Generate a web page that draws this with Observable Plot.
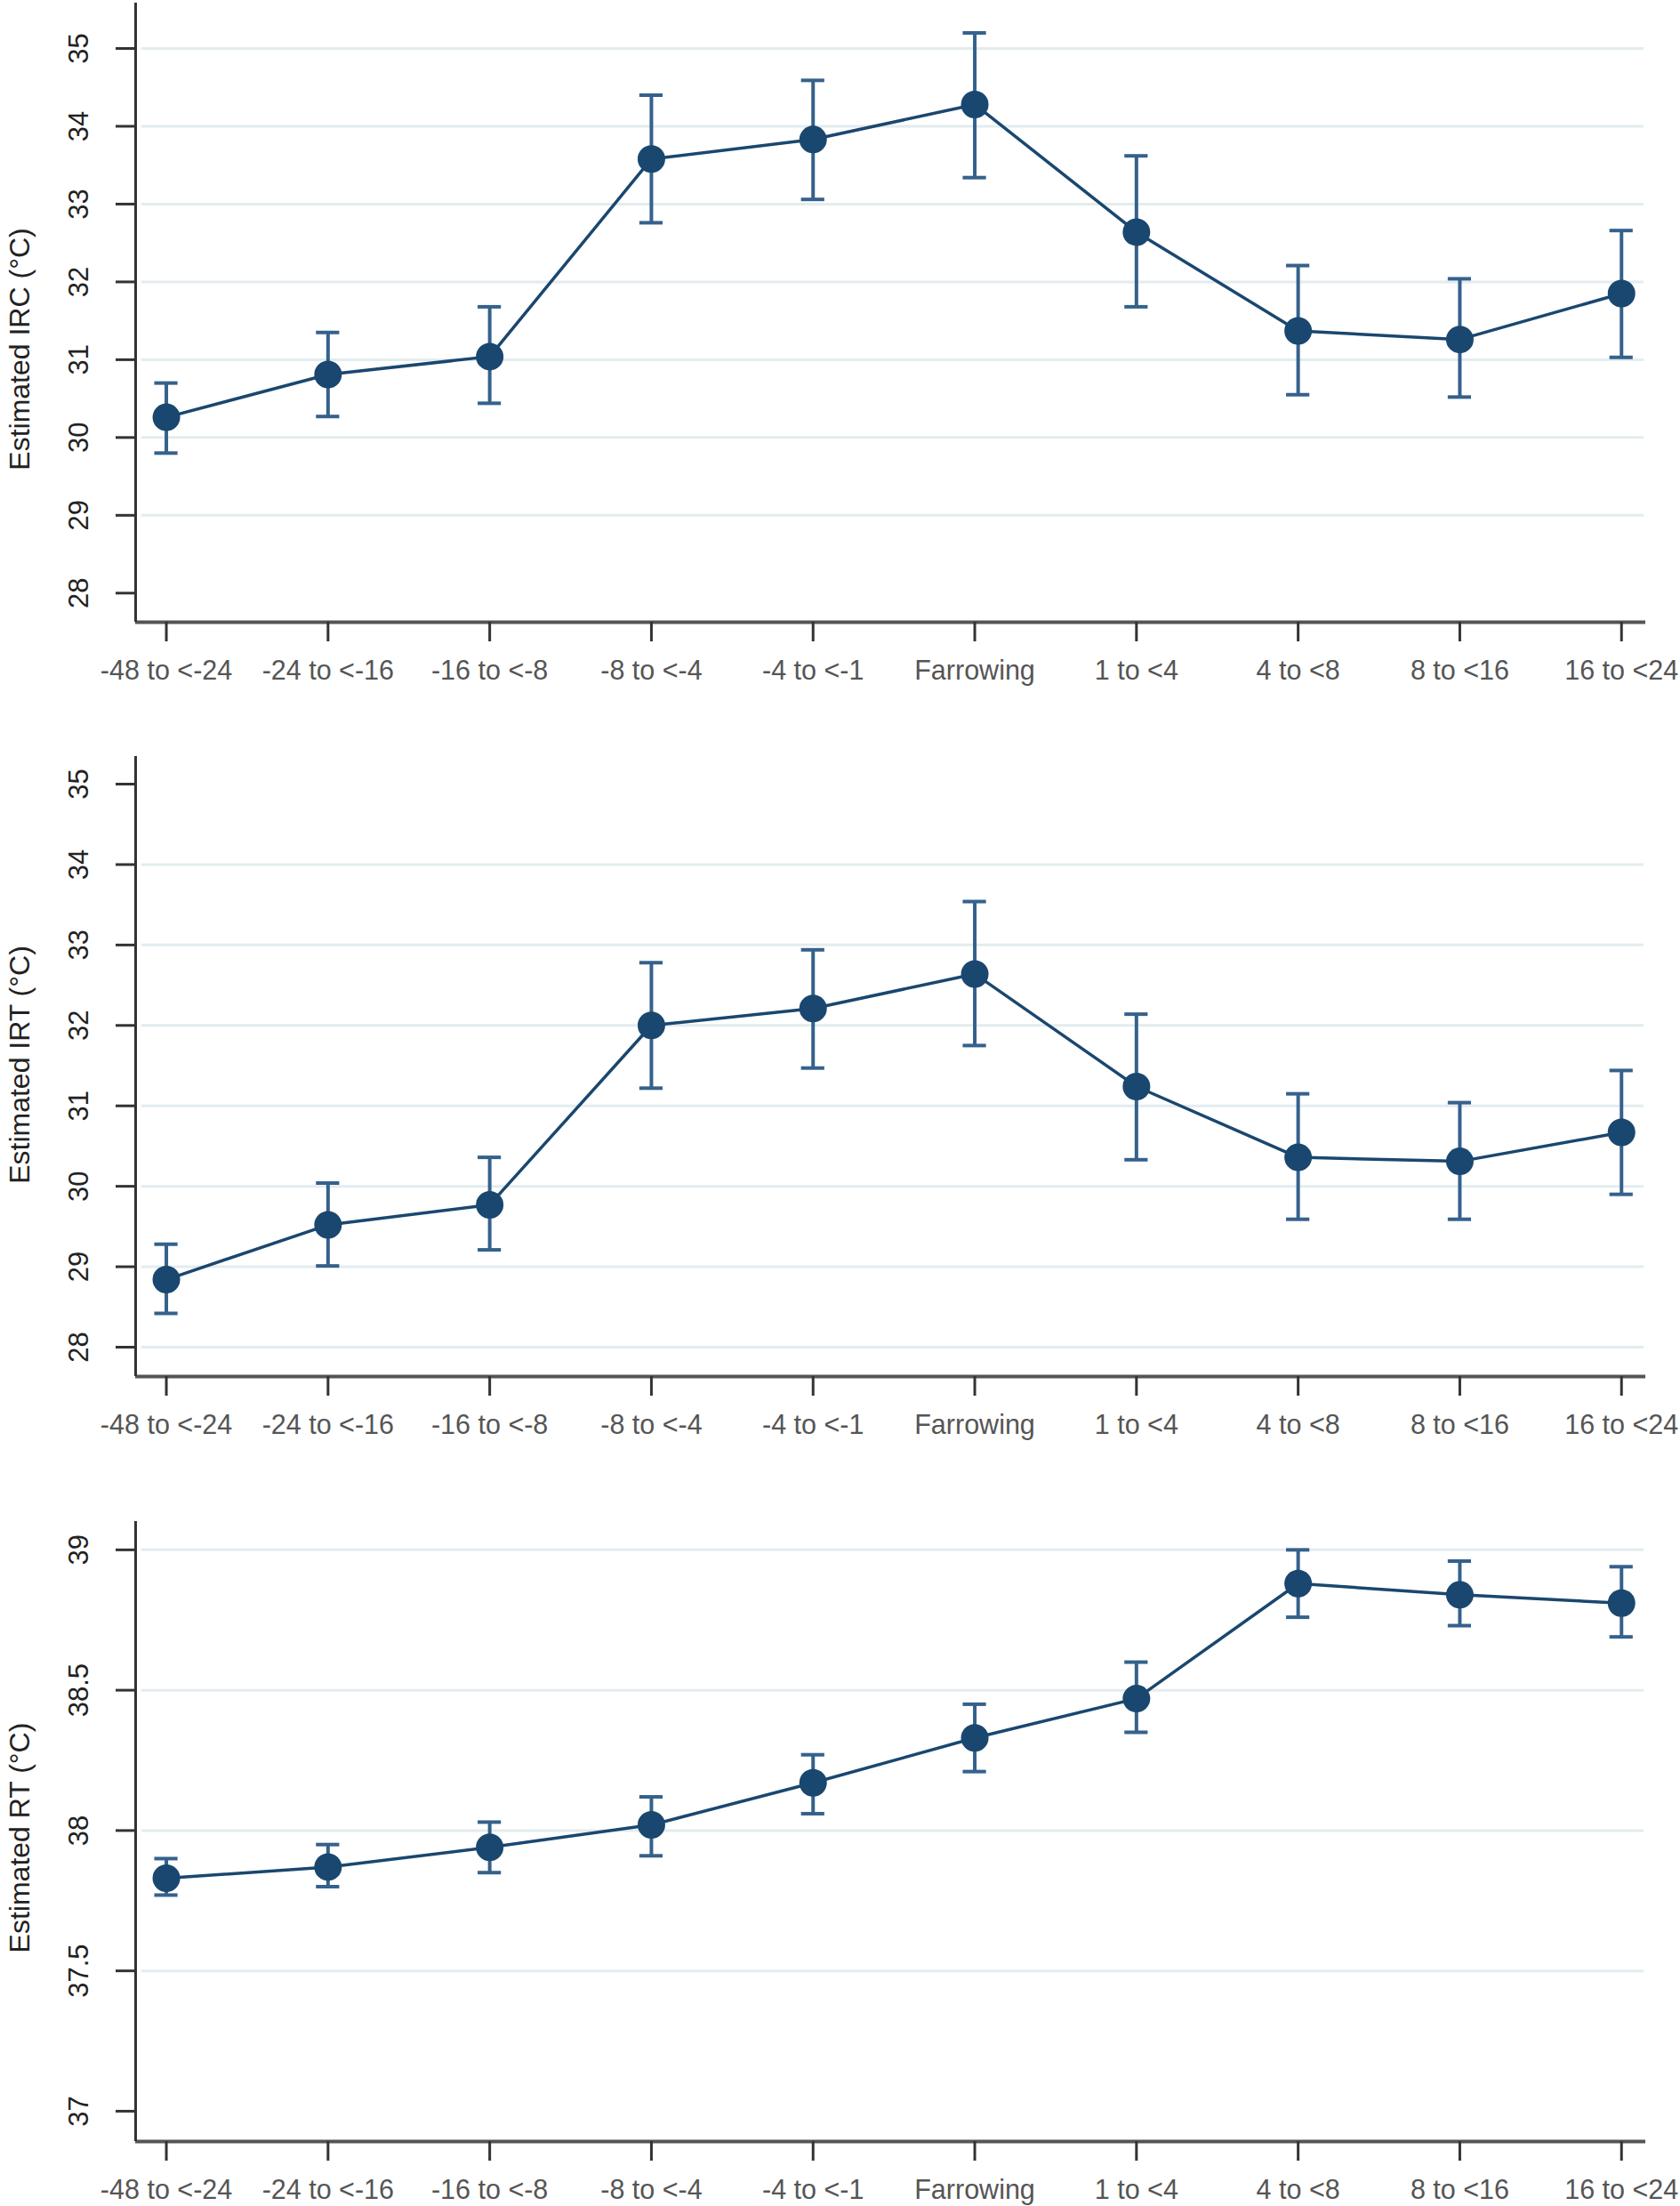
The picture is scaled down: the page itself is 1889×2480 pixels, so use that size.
<!DOCTYPE html>
<html>
<head>
<meta charset="utf-8">
<script src="https://cdn.jsdelivr.net/npm/d3@7"></script>
<script src="https://cdn.jsdelivr.net/npm/@observablehq/plot@0.6"></script>
<style>
  body { margin: 0; background: #fff; }
  #chart svg { display: block; }
</style>
</head>
<body>
<div id="chart"></div>
<script>
// ---- Data ----
const categories = ["-48 to <-24", "-24 to <-16", "-16 to <-8", "-8 to <-4", "-4 to <-1",
                    "Farrowing", "1 to <4", "4 to <8", "8 to <16", "16 to <24"];

const ircMean = [30.26, 30.81, 31.04, 33.58, 33.83, 34.28, 32.64, 31.37, 31.26, 31.85];
const ircLow  = [29.80, 30.27, 30.44, 32.76, 33.06, 33.34, 31.68, 30.55, 30.52, 31.03];
const ircHigh = [30.70, 31.35, 31.68, 34.40, 34.59, 35.20, 33.62, 32.21, 32.04, 32.66];

const irtMean = [28.84, 29.52, 29.77, 32.00, 32.21, 32.64, 31.24, 30.36, 30.31, 30.67];
const irtLow  = [28.42, 29.01, 29.21, 31.22, 31.47, 31.75, 30.33, 29.59, 29.59, 29.90];
const irtHigh = [29.28, 30.04, 30.36, 32.78, 32.94, 33.54, 32.14, 31.15, 31.04, 31.44];

const rtMean = [37.83, 37.87, 37.94, 38.02, 38.17, 38.33, 38.47, 38.88, 38.84, 38.81];
const rtLow  = [37.77, 37.80, 37.85, 37.91, 38.06, 38.21, 38.35, 38.76, 38.73, 38.69];
const rtHigh = [37.90, 37.95, 38.03, 38.12, 38.27, 38.45, 38.60, 39.00, 38.96, 38.94];

const ircTicks = [28, 29, 30, 31, 32, 33, 34, 35];
const irtTicks = [28, 29, 30, 31, 32, 33, 34, 35];
const rtTicks  = [37, 37.5, 38, 38.5, 39];

const ircGrid = [29, 30, 31, 32, 33, 34, 35];
const irtGrid = [28, 29, 30, 31, 32, 33, 34];
const rtGrid  = [37.5, 38, 38.5, 39];

// ---- Styling / layout ----
const NAVY = "#1a476f";
const BAR = "#35618c";
const GRID = "#e3ecef";
const FONT = "'Liberation Sans', Arial, Helvetica, sans-serif";
const xDomain = [-0.19, 9.15];
const capW = 0.072;

const panels = [
  {title: "Estimated IRC (°C)", mean: ircMean, low: ircLow, high: ircHigh,
   ticks: ircTicks, grid: ircGrid, yDomain: [27.626, 35.583],
   height: 800, marginTop: 3, marginBottom: 101, titleDy: 41},
  {title: "Estimated IRT (°C)", mean: irtMean, low: irtLow, high: irtHigh,
   ticks: irtTicks, grid: irtGrid, yDomain: [27.635, 35.343],
   height: 860, marginTop: 50, marginBottom: 113, titleDy: -2},
  {title: "Estimated RT (°C)", mean: rtMean, low: rtLow, high: rtHigh,
   ticks: rtTicks, grid: rtGrid, yDomain: [36.892, 39.101],
   height: 820, marginTop: 50, marginBottom: 73, titleDy: 7}
];

const container = document.getElementById("chart");

for (const p of panels) {
  const data = categories.map((c, i) => ({cat: c, i, mean: p.mean[i], low: p.low[i], high: p.high[i]}));
  const chart = Plot.plot({
    width: 1889,
    height: p.height,
    marginLeft: 152,
    marginRight: 39,
    marginTop: p.marginTop,
    marginBottom: p.marginBottom,
    style: {fontFamily: FONT, fontSize: "30px", background: "#fff", color: "#222"},
    x: {type: "linear", domain: xDomain},
    y: {type: "linear", domain: p.yDomain},
    marks: [
      // grid lines
      Plot.ruleY(p.grid, {stroke: GRID, strokeWidth: 3, insetLeft: 7, insetRight: 2}),
      // axis lines
      Plot.ruleY([p.yDomain[0]], {stroke: "#555", strokeWidth: 4}),
      Plot.ruleX([xDomain[0]], {stroke: "#333", strokeWidth: 3}),
      // y ticks (labels drawn separately, rotated)
      Plot.axisY({ticks: p.ticks, tickSize: 22, tickFormat: () => "", stroke: "#333", strokeWidth: 3, label: null}),
      Plot.text(p.ticks, {y: d => d, text: d => String(d), frameAnchor: "left", dx: -63,
                          textAnchor: "middle", lineAnchor: "middle",
                          rotate: -90, fontSize: 31, fill: "#222"}),
      // x axis
      Plot.axisX({ticks: d3.range(categories.length), tickFormat: i => categories[i],
                  tickSize: 22, tickPadding: 21, fontSize: 30.5, stroke: "#333", fill: "#555",
                  strokeWidth: 3, label: null}),
      // y title
      Plot.text([p.title], {text: d => d, frameAnchor: "left", dx: -130, dy: p.titleDy,
                            textAnchor: "middle", lineAnchor: "middle",
                            rotate: -90, fontSize: 32, fill: "#222"}),
      // error bars
      Plot.ruleX(data, {x: "i", y1: "low", y2: "high", stroke: BAR, strokeWidth: 4}),
      Plot.ruleY(data, {y: "high", x1: d => d.i - capW, x2: d => d.i + capW, stroke: BAR, strokeWidth: 4}),
      Plot.ruleY(data, {y: "low", x1: d => d.i - capW, x2: d => d.i + capW, stroke: BAR, strokeWidth: 4}),
      // connecting line and markers
      Plot.line(data, {x: "i", y: "mean", stroke: NAVY, strokeWidth: 3.5}),
      Plot.dot(data, {x: "i", y: "mean", r: 15.5, fill: NAVY, stroke: "none"})
    ]
  });
  container.appendChild(chart);
}
</script>
</body>
</html>
